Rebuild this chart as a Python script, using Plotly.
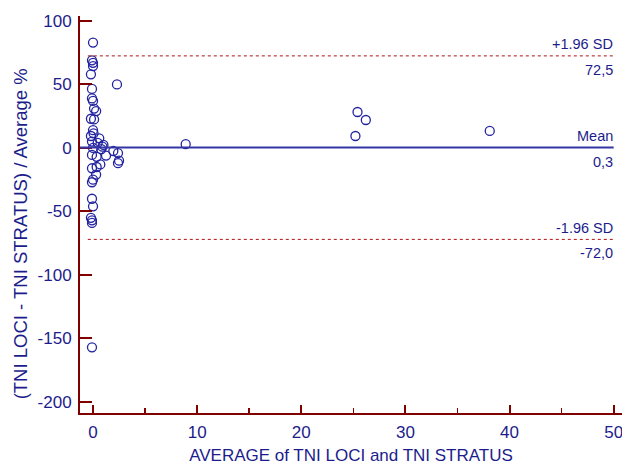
import plotly.graph_objects as go

# Bland-Altman data: average (x) and % difference (y)
avg_values = [0.0, -0.1, 0.0, 0.0, -0.2, 2.3, -0.1, -0.1, 0.0, 0.1, 0.3, -0.2, 0.1,
              0.0, 0.05, 0.6, -0.2, -0.1, 0.45, 1.0, 0.9, 0.0, 0.8, 1.95, 2.4, 1.25,
              -0.1, 0.35, 0.7, 0.35, -0.1, 2.4, 2.5, 0.3, 0.0, -0.1, -0.1, 0.0, -0.2,
              -0.1, -0.1, -0.1, 8.9, 25.2, 25.4, 26.2, 38.1]
pct_diff = [83, 69, 67, 64.5, 58, 50, 46.5, 39, 37, 31, 29, 23, 22.5,
            14, 11.5, 7.6, 9.4, 5, 4, 2.4, 1, 0, -1, -2.4, -4, -6,
            -5.5, -7, -13, -15, -16, -12, -10, -21, -25, -27, -40, -46, -55,
            -57, -59, -157, 3, 9.4, 28.3, 22, 13.4]

mean_val = 0.3
upper_loa = 72.5
lower_loa = -72.0
line_labels = ["+1.96 SD", "Mean", "-1.96 SD"]
value_labels = ["72,5", "0,3", "-72,0"]

x_ticks = [0, 10, 20, 30, 40, 50]
y_ticks = [100, 50, 0, -50, -100, -150, -200]
x_title = "AVERAGE of TNI LOCI and TNI STRATUS"
y_title = "(TNI LOCI - TNI STRATUS) / Average %"

NAVY = "#1c1c8c"
AXIS = "#800000"
FONT = "Liberation Sans, Arial, sans-serif"

fig = go.Figure()
fig.add_trace(go.Scatter(
    x=avg_values, y=pct_diff, mode="markers",
    marker=dict(symbol="circle-open", size=9, color="#2323a0", line=dict(width=1.3)),
    showlegend=False, cliponaxis=False, hoverinfo="skip",
))

shapes = [
    dict(type="line", xref="x", yref="y", x0=-1.25, x1=50, y0=mean_val, y1=mean_val,
         line=dict(color="#3535a5", width=2)),
    dict(type="line", xref="x", yref="y", x0=-0.5, x1=50, y0=upper_loa, y1=upper_loa,
         line=dict(color="#b01010", width=1, dash="dot")),
    dict(type="line", xref="x", yref="y", x0=-0.5, x1=50, y0=lower_loa, y1=lower_loa,
         line=dict(color="#b01010", width=1, dash="dot")),
]
fig.update_layout(shapes=shapes)

annots = []
for lvl, top, bot in zip([upper_loa, mean_val, lower_loa], line_labels, value_labels):
    annots.append(dict(x=50, y=lvl, xref="x", yref="y", text=top, showarrow=False,
                       xanchor="right", yanchor="bottom", yshift=1.5, xshift=1,
                       font=dict(family=FONT, size=14.5, color=NAVY)))
    annots.append(dict(x=50, y=lvl, xref="x", yref="y", text=bot, showarrow=False,
                       xanchor="right", yanchor="top", yshift=-4, xshift=1,
                       font=dict(family=FONT, size=14.5, color=NAVY)))
# y-axis title as rotated annotation
annots.append(dict(x=-0.1107, y=0.45, xref="paper", yref="paper", text=y_title,
                   textangle=-90, showarrow=False, xanchor="center", yanchor="middle",
                   font=dict(family=FONT, size=18.5, color=NAVY)))
fig.update_layout(annotations=annots)

fig.update_xaxes(
    range=[-1.25, 50.8], tickvals=x_ticks, ticktext=[str(v) for v in x_ticks],
    automargin=False, ticklabeloverflow="allow",
    showline=True, linecolor=AXIS, linewidth=2, ticks="inside", ticklen=8,
    tickwidth=2, tickcolor=AXIS, showgrid=False, zeroline=False,
    minor=dict(dtick=5, tick0=0, ticks="inside", ticklen=5, tickwidth=1.5, tickcolor=AXIS, showgrid=False),
    tickfont=dict(family=FONT, size=17, color=NAVY), ticklabelstandoff=3,
    title=dict(text=x_title, standoff=8,
               font=dict(family=FONT, size=17, color=NAVY)),
)
fig.update_yaxes(
    range=[-208.7, 103.9], tickvals=y_ticks, ticktext=[str(v) for v in y_ticks],
    automargin=False,
    showline=True, linecolor=AXIS, linewidth=2, ticks="inside", ticklen=12,
    tickwidth=2, tickcolor=AXIS, showgrid=False, zeroline=False,
    tickfont=dict(family=FONT, size=17, color=NAVY), ticklabelstandoff=3,
)

fig.update_layout(
    width=622, height=467,
    margin=dict(l=80, r=0, t=16, b=54),
    plot_bgcolor="white", paper_bgcolor="white",
    font=dict(family=FONT, color=NAVY),
    hovermode=False,
)

fig.write_html("out.html", config={"displayModeBar": False, "staticPlot": True},
               post_script="document.body.style.margin='0';document.body.style.overflow='hidden';")
